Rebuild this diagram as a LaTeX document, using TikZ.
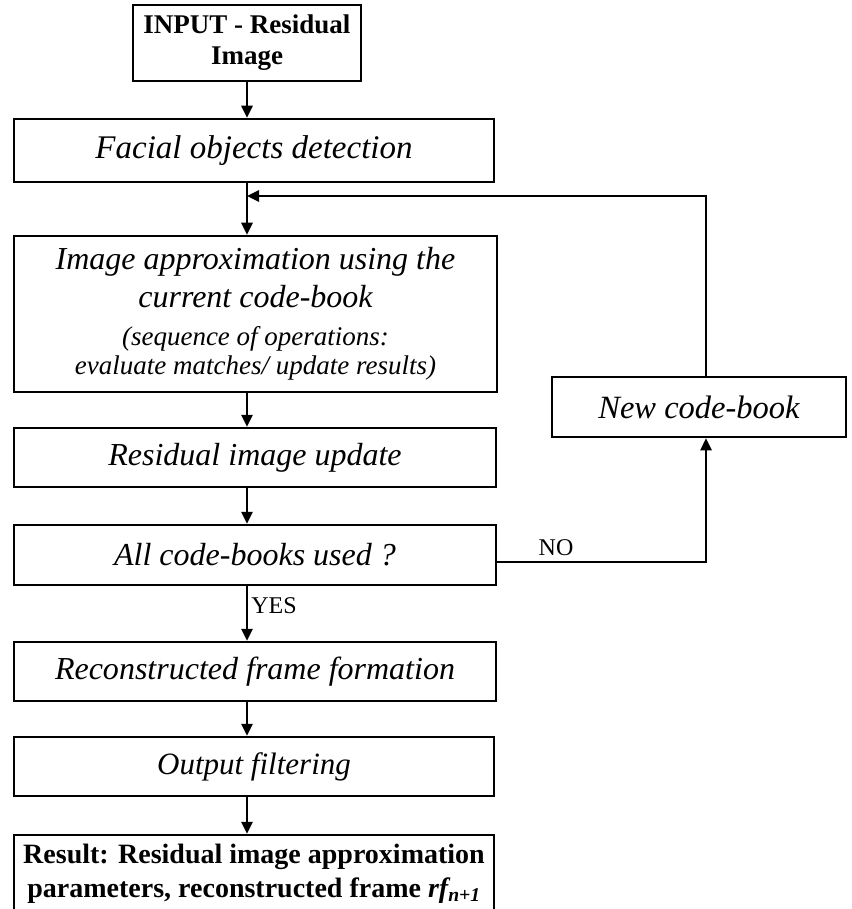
\documentclass[tikz,border=0pt]{standalone}
\usepackage{fontspec}
\setmainfont{Liberation Serif}
\usetikzlibrary{arrows.meta}
\begin{document}
\begin{tikzpicture}[x=1pt,y=-1pt,
  box/.style={draw, line width=2.5pt, inner sep=0pt, align=center},
  itbox/.style={box, font=\itshape\fontsize{32}{36}\selectfont},
  arr/.style={line width=2.5pt, -{Triangle[length=12pt,width=11pt]}},
  lbl/.style={inner sep=0pt, font=\fontsize{24}{28}\selectfont}]
\useasboundingbox (0,0) rectangle (851,909);
\node[box, minimum width=228pt, minimum height=76pt, font=\bfseries\fontsize{27}{31}\selectfont] (input) at (247,43) {INPUT - Residual\\Image};
\node[itbox, minimum width=480pt, minimum height=63pt, font=\itshape\fontsize{33}{36}\selectfont] (facial) at (254,150.5) {Facial objects detection};
\node[box, minimum width=483pt, minimum height=156pt, font=\itshape\fontsize{27}{29}\selectfont] (approx) at (255.5,314)
  {{\fontsize{32}{29}\selectfont Image approximation using the}\\[8pt]
   {\fontsize{32}{29}\selectfont current code-book}\\[9pt]
   {\fontsize{27}{29}\selectfont (sequence of operations:}\\
   {\fontsize{27}{29}\selectfont evaluate matches/ update results)}};
\node[itbox, minimum width=482pt, minimum height=59pt] (resid) at (255,457.5) {Residual image update};
\node[itbox, minimum width=482pt, minimum height=60pt] (allcb) at (255,555) {All code-books used ?};
\node[itbox, minimum width=482pt, minimum height=59pt] (recon) at (255,671.5) {Reconstructed frame formation};
\node[itbox, minimum width=480pt, minimum height=59pt, font=\itshape\fontsize{31}{36}\selectfont] (outf) at (254,766.5) {Output filtering};
\node[box, minimum width=480pt, minimum height=77pt, font=\bfseries\fontsize{28}{34}\selectfont] (result) at (254,873.5)
  {Result: Residual image approximation\\parameters, reconstructed frame \textit{rf\textsubscript{n+1}}};
\node[itbox, minimum width=294pt, minimum height=60pt, font=\itshape\fontsize{32.5}{36}\selectfont] (newcb) at (699,407) {New code-book};
\node[lbl] (no) at (556,548) {NO};
\node[lbl] (yes) at (274,606) {YES};
\coordinate (loopx) at (706,0);
\coordinate (junc) at (247,196);
\draw[arr] (input.south) -- (input.south |- facial.north);
\draw[arr] (input.south |- facial.south) -- (input.south |- approx.north);
\draw[arr] (input.south |- approx.south) -- (input.south |- resid.north);
\draw[arr] (input.south |- resid.south) -- (input.south |- allcb.north);
\draw[arr] (input.south |- allcb.south) -- (input.south |- recon.north);
\draw[arr] (input.south |- recon.south) -- (input.south |- outf.north);
\draw[arr] (input.south |- outf.south) -- (input.south |- result.north);
\draw[arr] ([yshift=-7pt]allcb.east) -| (loopx |- newcb.south);
\draw[arr] (loopx |- newcb.north) |- (junc);
\end{tikzpicture}
\end{document}
